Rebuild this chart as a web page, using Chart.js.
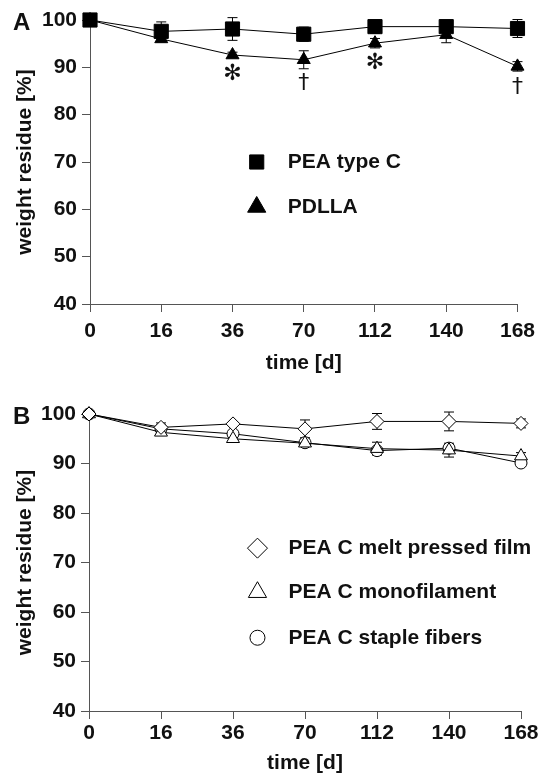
<!DOCTYPE html>
<html>
<head>
<meta charset="utf-8">
<script src="https://cdn.jsdelivr.net/npm/chart.js@4.4.0/dist/chart.umd.min.js"></script>
<style>
    html, body { margin: 0; padding: 0; background: #fff; }
    .panel { position: absolute; left: 0; width: 542px; }
    #panelA { top: 0; height: 390px; }
    #panelB { top: 390px; height: 389px; }
</style>
</head>
<body>
<div class="panel" id="panelA"><canvas id="chartA" width="542" height="390"></canvas></div>
<div class="panel" id="panelB"><canvas id="chartB" width="542" height="389"></canvas></div>
<script>
// time points (days)
const days = ['0', '16', '36', '70', '112', '140', '168'];

// panel A
const peaC = [100, 97.6, 98.1, 97.0, 98.6, 98.6, 98.2];
const peaCErr = [0, 2.0, 2.4, 1.5, 1.4, 0.6, 1.9];
const pdlla = [100, 96.0, 92.6, 91.6, 95.1, 96.9, 90.2];
const pdllaErr = [0, 0.6, 0.6, 1.9, 1.0, 1.7, 1.0];
// significance marks under PDLLA: [index, value, symbol]
const marksA = [[2, 88.6, '✻'], [3, 86.7, '†'], [4, 90.9, '✻'], [6, 85.8, '†']];

// panel B
const film = [100, 97.3, 98.0, 97.0, 98.5, 98.5, 98.1];
const filmErr = [0, 0.9, 0.3, 1.8, 1.6, 1.9, 0.9];
const mono = [100, 96.3, 95.0, 94.1, 93.0, 92.7, 91.5];
const monoErr = [0, 0.5, 0.5, 0.5, 1.3, 1.4, 0.7];
const staple = [100, 97.0, 96.0, 94.2, 92.6, 93.1, 90.1];
const stapleErr = [0, 0.8, 0.4, 0.8, 0.5, 0.6, 0.5];

const FONT = '"Liberation Sans", Arial, Helvetica, sans-serif';
const INK = '#111';
const AXIS = '#555';

function scales(yWidth, xHeight, xPad) {
    const font = { family: FONT, size: 21, weight: 'bold' };
    return {
        x: {
            type: 'category',
            offset: false,
            ticks: { color: INK, font: font, padding: xPad, maxRotation: 0, autoSkip: false },
            grid: { drawOnChartArea: false, tickLength: 8, color: AXIS },
            border: { color: AXIS, width: 1 },
            title: { display: true, text: 'time [d]', color: INK, font: font, padding: 0 },
            afterFit: function (s) { s.height = xHeight; }
        },
        y: {
            min: 40,
            max: 100,
            ticks: { stepSize: 10, color: INK, font: font, padding: 5 },
            grid: { drawOnChartArea: false, tickLength: 8, color: AXIS },
            border: { color: AXIS, width: 1 },
            title: { display: true, text: 'weight residue [%]', color: INK, font: font, padding: 0 },
            afterFit: function (s) { s.width = yWidth; }
        }
    };
}

function series(label, data, style, radius, fill) {
    return {
        label: label,
        data: data,
        borderColor: '#000',
        borderWidth: 1,
        pointStyle: style,
        pointRadius: radius,
        pointHoverRadius: radius,
        pointBackgroundColor: fill,
        pointBorderColor: '#000',
        pointBorderWidth: 1,
        tension: 0,
        clip: false
    };
}

// error bars drawn under the markers
function errorBars(errs) {
    return {
        id: 'errorBars',
        beforeDatasetsDraw(chart) {
            const ctx = chart.ctx;
            const y = chart.scales.y;
            ctx.save();
            ctx.strokeStyle = '#000';
            ctx.lineWidth = 1;
            chart.data.datasets.forEach((ds, i) => {
                const meta = chart.getDatasetMeta(i);
                ds.data.forEach((v, j) => {
                    const e = errs[i][j];
                    if (!e) return;
                    const px = meta.data[j].x;
                    const top = y.getPixelForValue(v + e);
                    const bot = y.getPixelForValue(v - e);
                    ctx.beginPath();
                    ctx.moveTo(px, top); ctx.lineTo(px, bot);
                    ctx.moveTo(px - 5, top); ctx.lineTo(px + 5, top);
                    ctx.moveTo(px - 5, bot); ctx.lineTo(px + 5, bot);
                    ctx.stroke();
                });
            });
            ctx.restore();
        }
    };
}

// legend inside the plot + panel letter
function extras(letter, letterY, rows, marks) {
    return {
        id: 'extras',
        afterDraw(chart) {
            const ctx = chart.ctx;
            const area = chart.chartArea;
            const ys = chart.scales.y;
            const xs = chart.scales.x;
            ctx.save();
            ctx.fillStyle = INK;
            ctx.textBaseline = 'middle';
            ctx.textAlign = 'left';
            ctx.font = 'bold 24px ' + FONT;
            ctx.fillText(letter, 13, letterY);

            const mx = area.left + 0.39 * (area.right - area.left);
            rows.forEach(r => {
                const py = ys.getPixelForValue(r.at);
                ctx.fillStyle = r.fill;
                ctx.strokeStyle = '#000';
                ctx.lineWidth = 1;
                Chart.helpers.drawPoint(ctx, { pointStyle: r.style, radius: r.radius, rotation: 0, borderWidth: 1 }, mx, py);
                ctx.fillStyle = INK;
                ctx.font = 'bold 21px ' + FONT;
                ctx.fillText(r.text, mx + 31, py);
            });

            ctx.textAlign = 'center';
            (marks || []).forEach(m => {
                const px = xs.getPixelForValue(m[0]);
                const py = ys.getPixelForValue(m[1]);
                ctx.font = (m[2] === '†' ? '22px ' : 'bold 22px ') + '"DejaVu Sans", sans-serif';
                ctx.fillText(m[2], px, py);
            });
            ctx.restore();
        }
    };
}

new Chart(document.getElementById('chartA'), {
    type: 'line',
    data: {
        labels: days,
        datasets: [
            series('PEA type C', peaC, 'rect', 10, '#000'),
            series('PDLLA', pdlla, 'triangle', 7.5, '#000')
        ]
    },
    options: {
        responsive: false,
        animation: false,
        layout: { padding: { top: 20, right: 18, left: 13, bottom: 14 } },
        scales: scales(77, 72, 7),
        plugins: { legend: { display: false }, tooltip: { enabled: false } }
    },
    plugins: [
        errorBars([peaCErr, pdllaErr]),
        extras('A', 23, [
            { at: 70, style: 'rect', radius: 10, fill: '#000', text: 'PEA type C' },
            { at: 60.5, style: 'triangle', radius: 10.5, fill: '#000', text: 'PDLLA' }
        ], marksA)
    ]
});

new Chart(document.getElementById('chartB'), {
    type: 'line',
    data: {
        labels: days,
        datasets: [
            series('PEA C melt pressed film', film, 'rectRot', 7, '#fff'),
            series('PEA C monofilament', mono, 'triangle', 7.5, '#fff'),
            series('PEA C staple fibers', staple, 'circle', 6, '#fff')
        ]
    },
    options: {
        responsive: false,
        animation: false,
        layout: { padding: { top: 24, right: 21, left: 13, bottom: 3 } },
        scales: scales(76, 65, 2),
        plugins: { legend: { display: false }, tooltip: { enabled: false } }
    },
    plugins: [
        errorBars([filmErr, monoErr, stapleErr]),
        extras('B', 27, [
            { at: 72.9, style: 'rectRot', radius: 10, fill: '#fff', text: 'PEA C melt pressed film' },
            { at: 64.0, style: 'triangle', radius: 10.5, fill: '#fff', text: 'PEA C monofilament' },
            { at: 54.8, style: 'circle', radius: 7.5, fill: '#fff', text: 'PEA C staple fibers' }
        ])
    ]
});
</script>
</body>
</html>
